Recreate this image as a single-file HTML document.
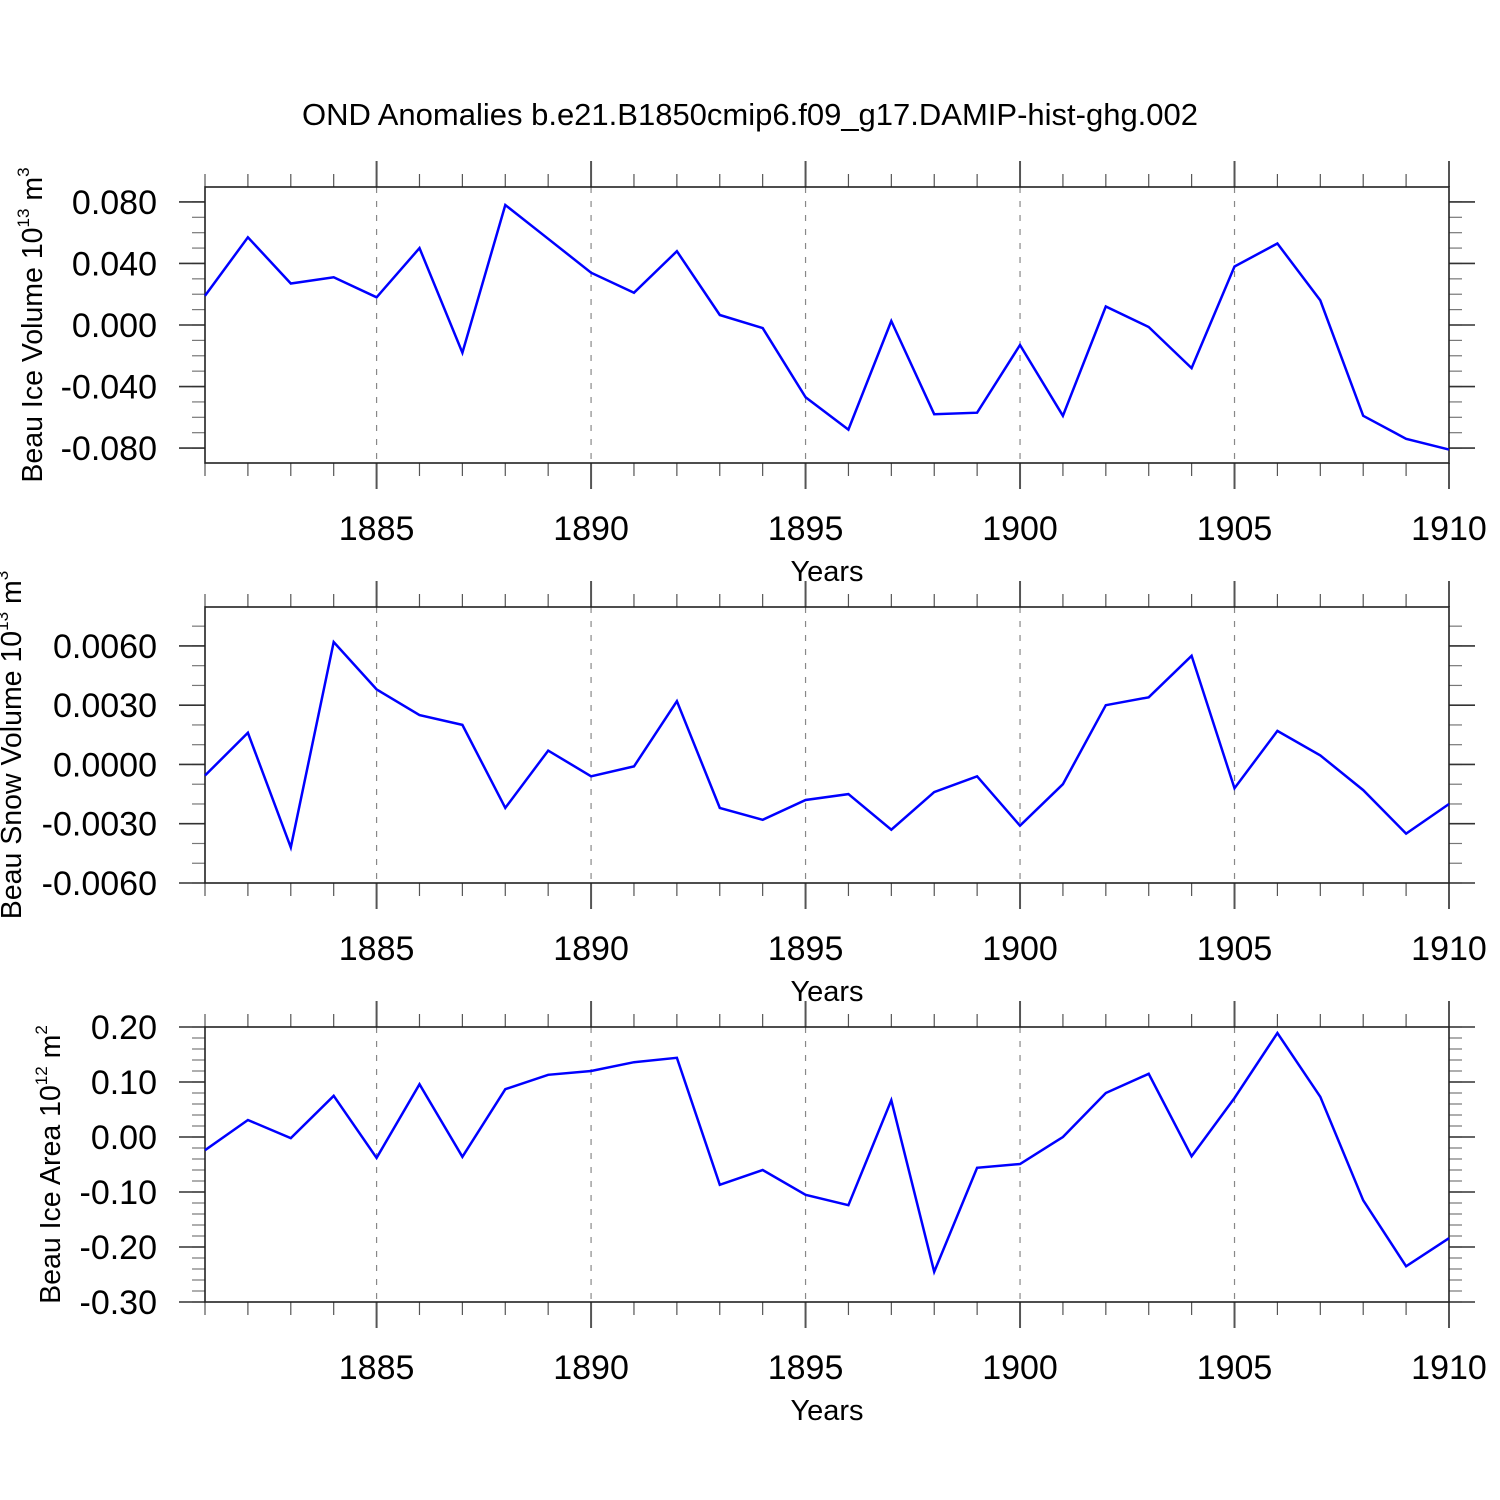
<!DOCTYPE html>
<html><head><meta charset="utf-8"><style>
html,body{margin:0;padding:0;background:#fff;}
svg{display:block;font-family:"Liberation Sans",Arial,sans-serif;}
</style></head><body>
<svg id="c" width="1500" height="1500" viewBox="0 0 1500 1500" xmlns="http://www.w3.org/2000/svg">
<text x="750" y="125" font-size="31" text-anchor="middle">OND Anomalies b.e21.B1850cmip6.f09_g17.DAMIP-hist-ghg.002</text>
</svg>
<script>
const years = [1881,1882,1883,1884,1885,1886,1887,1888,1889,1890,1891,1892,1893,1894,1895,1896,1897,1898,1899,1900,1901,1902,1903,1904,1905,1906,1907,1908,1909,1910];
const iceVolume = [0.019,0.057,0.027,0.031,0.018,0.050,-0.018,0.078,0.056,0.034,0.021,0.048,0.0065,-0.002,-0.047,-0.068,0.0026,-0.058,-0.057,-0.013,-0.059,0.012,-0.0013,-0.028,0.038,0.053,0.016,-0.059,-0.074,-0.081];
const snowVolume = [-0.00056,0.0016,-0.0042,0.0062,0.0038,0.0025,0.0020,-0.0022,0.0007,-0.0006,-0.0001,0.0032,-0.0022,-0.0028,-0.0018,-0.0015,-0.0033,-0.0014,-0.0006,-0.0031,-0.001,0.003,0.0034,0.0055,-0.0012,0.0017,0.00046,-0.0013,-0.0035,-0.002];
const iceArea = [-0.024,0.031,-0.002,0.075,-0.038,0.096,-0.036,0.087,0.113,0.120,0.136,0.144,-0.087,-0.060,-0.105,-0.124,0.067,-0.245,-0.056,-0.049,0.0,0.080,0.115,-0.035,0.071,0.189,0.073,-0.115,-0.235,-0.184];
const xTickLabels = ["1885","1890","1895","1900","1905","1910"];
const iceVolTicks = ["0.080","0.040","0.000","-0.040","-0.080"];
const snowTicks = ["0.0060","0.0030","0.0000","-0.0030","-0.0060"];
const areaTicks = ["0.20","0.10","0.00","-0.10","-0.20","-0.30"];

const NS="http://www.w3.org/2000/svg";
const svg=document.getElementById('c');
const X0=205,X1=1449,YR0=1881,YR1=1910;
function xs(yr){return X0+(yr-YR0)*(X1-X0)/(YR1-YR0);}
function mk(tag,attrs,parent){const e=document.createElementNS(NS,tag);for(const k in attrs)e.setAttribute(k,attrs[k]);(parent||svg).appendChild(e);return e;}

function panel(cfg){
  const g=mk('g',{});
  
  
  const ys=v=>cfg.top+(cfg.vmax-v)*(cfg.bot-cfg.top)/(cfg.vmax-cfg.vmin);
  for(const t of xTickLabels){const yr=+t;if(yr<YR1){const l=mk('line',{x1:xs(yr),x2:xs(yr),y1:cfg.top,y2:cfg.bot,stroke:'#888','stroke-width':1.2,'stroke-dasharray':'6,8'},g);}}
  for(let yr=YR0;yr<=YR1;yr++){
    const maj=yr%5===0, len=maj?26:13;
    mk('line',{x1:xs(yr),x2:xs(yr),y1:cfg.top-len,y2:cfg.top,stroke:'#555','stroke-width':maj?2:1.2},g);
    mk('line',{x1:xs(yr),x2:xs(yr),y1:cfg.bot,y2:cfg.bot+len,stroke:'#555','stroke-width':maj?2:1.2},g);
  }
  xTickLabels.forEach(t=>{const e=mk('text',{x:xs(+t),y:cfg.bot+77,'font-size':34,'text-anchor':'middle'},g);e.textContent=t;});
  const xl=mk('text',{x:827,y:cfg.bot+118,'font-size':29,'text-anchor':'middle'},g);xl.textContent='Years';
  
  for(let k=Math.ceil(cfg.vmin/cfg.minor-1e-6);k*cfg.minor<=cfg.vmax+1e-9;k++){
    const y=ys(k*cfg.minor);
    mk('line',{x1:X0-13,x2:X0,y1:y,y2:y,stroke:'#777','stroke-width':1.2},g);
    mk('line',{x1:X1,x2:X1+13,y1:y,y2:y,stroke:'#777','stroke-width':1.2},g);
  }
  cfg.ticks.forEach(t=>{const y=ys(parseFloat(t));
    mk('line',{x1:X0-26,x2:X0,y1:y,y2:y,stroke:'#333','stroke-width':1.6},g);
    mk('line',{x1:X1,x2:X1+26,y1:y,y2:y,stroke:'#333','stroke-width':1.6},g);
    const e=mk('text',{x:157,y:y+12,'font-size':34,'text-anchor':'end'},g);e.textContent=t;
    });
  const r=mk('rect',{x:X0,y:cfg.top,width:X1-X0,height:cfg.bot-cfg.top,fill:'none',stroke:'#222','stroke-width':1.6},g);
  
  const pts=years.map((yr,i)=>xs(yr).toFixed(1)+','+ys(cfg.data[i]).toFixed(1)).join(' ');
  const pl=mk('polyline',{points:pts,fill:'none',stroke:'#0000ff','stroke-width':2.5,'stroke-linejoin':'miter'},g);
  
  const yt=mk('text',{transform:`translate(${cfg.tx},${(cfg.top+cfg.bot)/2}) rotate(-90)`,'font-size':28.5,'text-anchor':'middle'},g);
  
  const a=mk('tspan',{},yt);a.textContent=cfg.t1;
  const b=mk('tspan',{'font-size':17,dy:-13},yt);b.textContent=cfg.sup1;
  const c=mk('tspan',{dy:13},yt);c.textContent=' '+cfg.t2;
  const d=mk('tspan',{'font-size':17,dy:-13},yt);d.textContent=cfg.sup2;
}
panel({name:'ice-volume-panel',top:187,bot:463,vmax:0.0897,vmin:-0.0897,minor:0.01,ticks:iceVolTicks,data:iceVolume,tx:42,t1:'Beau Ice Volume 10',sup1:'13',t2:'m',sup2:'3'});
panel({name:'snow-volume-panel',top:607,bot:883,vmax:0.00797,vmin:-0.006,minor:0.001,ticks:snowTicks,data:snowVolume,tx:21,t1:'Beau Snow Volume 10',sup1:'13',t2:'m',sup2:'3'});
panel({name:'ice-area-panel',top:1027,bot:1302,vmax:0.2,vmin:-0.3,minor:0.02,ticks:areaTicks,data:iceArea,tx:60,t1:'Beau Ice Area 10',sup1:'12',t2:'m',sup2:'2'});
</script>
</body></html>
